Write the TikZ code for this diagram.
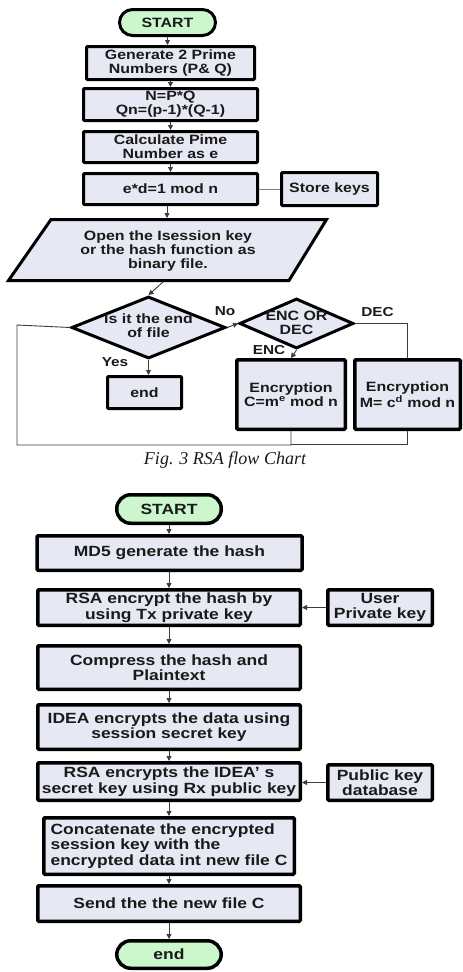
\documentclass[tikz,border=0pt]{standalone}
\usepackage{fontspec}
\setmainfont{Liberation Sans}
\newfontfamily\boxfont[FakeStretch=1.18]{Liberation Sans}
\newfontfamily\capfont{Liberation Serif}
\usetikzlibrary{arrows.meta,shapes.geometric}
\definecolor{boxfill}{HTML}{E6E9F4}
\definecolor{termfill}{HTML}{CCF7CC}
\definecolor{inkc}{HTML}{1A1A1A}
\begin{document}
\begin{tikzpicture}[x=1pt,y=-1pt,
  fa/.style={font={\boxfont\bfseries\fontsize{13.5}{14}\selectfont}},
  fb/.style={font={\boxfont\bfseries\fontsize{14.8}{15.5}\selectfont}},
  boxA/.style={draw=black, fill=boxfill, line width=3pt, align=center, inner sep=0pt, text=inkc, rounded corners=1pt, fa},
  boxB/.style={draw=black, fill=boxfill, line width=3.5pt, align=center, inner sep=0pt, text=inkc, rounded corners=1pt, fb},
  termA/.style={boxA, fill=termfill, rounded corners=13pt},
  termB/.style={boxB, fill=termfill, rounded corners=14pt},
  decA/.style={diamond, draw=black, fill=boxfill, line width=3pt, inner sep=0pt},
  txtA/.style={align=center, inner sep=0pt, text=inkc, fa},
  lblA/.style={inner sep=0pt, text=inkc, font={\boxfont\bfseries\fontsize{13}{14}\selectfont}},
  conn/.style={draw=inkc!85, line width=0.9pt},
  arr/.style={conn, -{Triangle[length=5pt,width=5pt]}}
]
\useasboundingbox (0,0) rectangle (463,972);

% ---------------- Chart 1 ----------------
\node[termA, minimum width=96, minimum height=26] (s1) at (167.5,22.5) {START};
\node[boxA, minimum width=168, minimum height=33] (b1) at (170.5,63) {Generate 2 Prime\\Numbers (P\& Q)};
\node[boxA, minimum width=174, minimum height=32] (b2) at (170.5,104.5) {N=P*Q\\Qn=(p-1)*(Q-1)};
\node[boxA, minimum width=174, minimum height=31] (b3) at (170.5,147) {Calculate Pime\\Number as e};
\node[boxA, minimum width=174, minimum height=31] (b4) at (170.5,189) {e*d=1 mod n};
\node[boxA, minimum width=96, minimum height=33] (store) at (329.5,189) {Store keys};

\draw[draw=black, fill=boxfill, line width=3pt] (8.5,280.5) -- (51,219.5) -- (326.5,219.5) -- (289,280.5) -- cycle;
\node[txtA] (pt) at (168,251) {Open the Isession key\\or the hash function as\\binary file.};
\coordinate (ptop) at (167,218);
\coordinate (pbot) at (163,282);

\node[decA, minimum width=154, minimum height=62] (d1) at (148.5,327.5) {};
\node[txtA] (d1t) at (148.5,326) {Is it the end\\of file};
\node[decA, minimum width=114, minimum height=50] (d2) at (296.5,323.5) {};
\node[txtA] (d2t) at (296.5,323) {ENC OR\\DEC};

\node[lblA] (lno) at (225,311) {No};
\node[lblA] (lyes) at (115,362) {Yes};
\node[lblA] (lenc) at (269,350) {ENC};
\node[lblA] (ldec) at (377.5,312) {DEC};

\node[boxA, minimum width=74, minimum height=32] (e1) at (144.5,392.5) {end};
\node[boxA, line width=3.5pt, minimum width=108.5, minimum height=69.5] (encC) at (291,394.5) {Encryption\\C=m\textsuperscript{e} mod n};
\node[boxA, line width=3.5pt, minimum width=105.5, minimum height=69.5] (encM) at (407.5,394.5) {Encryption\\M= c\textsuperscript{d} mod n};

\coordinate (lb) at (17,445);
\coordinate (lt) at (17,325);
\coordinate (cb) at (291,444);

\draw[arr] (s1.south) -- (s1.south |- b1.north);
\draw[arr] (b1.south) -- (b2.north);
\draw[arr] (b2.south) -- (b3.north);
\draw[arr] (b3.south) -- (b4.north);
\draw[arr] (b4.south -| ptop) -- (ptop);
\draw[conn, draw=gray] (b4.east) -- (store.west);
\draw[arr] (pbot) -- (d1.north);
\draw[arr] (d1.east) -- (d2.west);
\draw[conn] (d2.east) -| (encM.north);
\draw[arr] (d2.south) -- (encC.north);
\draw[arr] (d1.south) -- (d1.south |- e1.north);
\draw[conn] (encC.south) |- (lb) -- (lt) -- (d1.west);
\draw[conn] (encM.south) |- (cb);

\node[inner sep=0pt, text=inkc, font={\capfont\itshape\fontsize{18}{20}\selectfont}] (cap) at (225,460) {Fig. 3 RSA flow Chart};

% ---------------- Chart 2 ----------------
\node[termB, minimum width=104.5, minimum height=28.5] (s2) at (169,509) {START};
\node[boxB, minimum width=265, minimum height=34.5] (m1) at (169.5,553) {MD5 generate the hash};
\node[boxB, minimum width=262.5, minimum height=35.5] (m2) at (169,607.5) {RSA encrypt the hash by\\using Tx private key};
\node[boxB, minimum width=104.5, minimum height=35.5] (upk) at (380,607.5) {User\\Private key};
\node[boxB, minimum width=262.5, minimum height=43.5] (m3) at (169,667.5) {Compress the hash and\\Plaintext};
\node[boxB, minimum width=262.5, minimum height=44.5] (m4) at (169,727) {IDEA encrypts the data using\\session secret key};
\node[boxB, minimum width=262.5, minimum height=37.5] (m5) at (169,781.5) {RSA encrypts the IDEA’ s\\secret key using Rx public key};
\node[boxB, minimum width=104.5, minimum height=35.5] (pkd) at (380,782.5) {Public key\\database};
\node[boxB, align=left, minimum width=250.5, minimum height=56.5] (m6) at (169,846) {Concatenate the encrypted\\session key with the\\encrypted data int new file C};
\node[boxB, minimum width=262.5, minimum height=35.5] (m7) at (169,903.5) {Send the the new file C};
\node[termB, minimum width=104.5, minimum height=27.5] (e2) at (169,954.5) {end};

\draw[arr] (s2.south) -- (s2.south |- m1.north);
\draw[arr] (m1.south -| s2.south) -- (s2.south |- m2.north);
\draw[arr] (m2.south) -- (m3.north);
\draw[arr] (m3.south) -- (m4.north);
\draw[arr] (m4.south) -- (m5.north);
\draw[arr] (m5.south) -- (m6.north);
\draw[arr] (m6.south) -- (m7.north);
\draw[arr] (m7.south) -- (e2.north);
\draw[arr] (upk.west) -- (m2.east);
\draw[arr] (pkd.west) -- (pkd.west -| m5.east);
\end{tikzpicture}
\end{document}
